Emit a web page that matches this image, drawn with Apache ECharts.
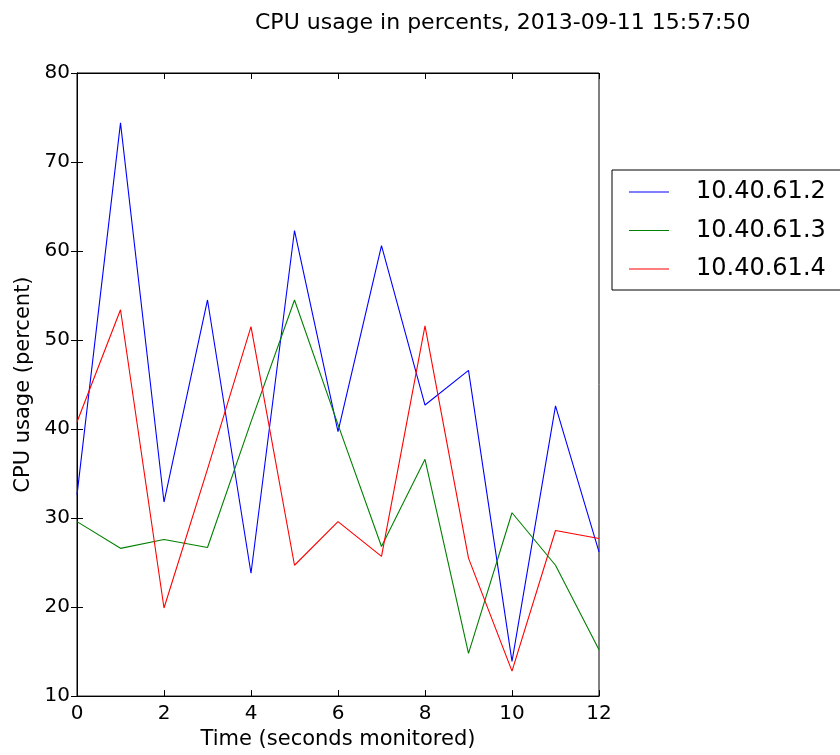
<!DOCTYPE html>
<html>
<head>
<meta charset="utf-8">
<script src="https://cdn.jsdelivr.net/npm/echarts@6/dist/echarts.min.js"></script>
<style>
  html, body { margin: 0; padding: 0; background: #fff; }
  #chart { width: 840px; height: 755px; }
</style>
</head>
<body>
<div id="chart"></div>
<script>
// seconds monitored
var seconds = [0, 1, 2, 3, 4, 5, 6, 7, 8, 9, 10, 11, 12];
var hosts = ['10.40.61.2', '10.40.61.3', '10.40.61.4'];
var cpu2 = [32.6, 74.4, 31.8, 54.5, 23.8, 62.3, 39.7, 60.6, 42.7, 46.6, 13.9, 42.6, 26.2];
var cpu3 = [29.6, 26.6, 27.6, 26.7, 40.8, 54.5, 40.5, 26.8, 36.6, 14.8, 30.6, 24.7, 15.2];
var cpu4 = [40.8, 53.4, 19.9, 35.5, 51.5, 24.7, 29.6, 25.7, 51.6, 25.5, 12.8, 28.6, 27.7];
var colors = ['#0000ff', '#008000', '#ff0000'];

function pairs(vals) {
    var out = [];
    for (var i = 0; i < seconds.length; i++) {
        out.push([seconds[i], vals[i]]);
    }
    return out;
}

window.addEventListener("load", initChart);

function initChart() {
    var chart = echarts.init(document.getElementById("chart"));
    var font = 'DejaVu Sans';
    var values = [cpu2, cpu3, cpu4];

    var series = [];
    for (var i = 0; i < hosts.length; i++) {
        series.push({
            name: hosts[i],
            type: 'line',
            showSymbol: false,
            symbol: 'none',
            lineStyle: { color: colors[i], width: 1.1 },
            itemStyle: { color: colors[i] },
            data: pairs(values[i])
        });
    }

    var lineIcon = 'path://M0,0 L40,0 L40,1.2 L0,1.2 Z';

    var option = {
        backgroundColor: '#fff',
        animation: false,
        textStyle: { fontFamily: font },
        title: {
            text: 'CPU usage in percents, 2013-09-11 15:57:50',
            left: 250,
            top: 7,
            textStyle: { fontFamily: font, fontSize: 22, fontWeight: 'normal', color: '#000' }
        },
        legend: {
            orient: 'vertical',
            left: 612,
            top: 170,
            padding: [10, 60, 9, 17],
            itemWidth: 40,
            itemHeight: 23,
            itemGap: 14.5,
            itemTextGap: 28,
            borderColor: '#000',
            borderWidth: 1,
            textStyle: { fontFamily: font, fontSize: 24, color: '#000', padding: [0, 0, 0, 22] },
            data: hosts.map(function (h) { return { name: h, icon: lineIcon }; })
        },
        grid: {
            left: 77,
            top: 73,
            right: 241,
            bottom: 57,
            show: true,
            borderColor: '#000',
            borderWidth: 1
        },
        xAxis: [{
            type: 'value',
            min: 0,
            max: 12,
            interval: 2,
            name: 'Time (seconds monitored)',
            nameLocation: 'middle',
            nameGap: 31,
            nameTextStyle: { fontFamily: font, fontSize: 21, color: '#000' },
            axisLine: { show: true, lineStyle: { color: '#000' } },
            axisTick: { show: true, inside: true, length: 6, lineStyle: { color: '#000' } },
            axisLabel: { fontFamily: font, fontSize: 20, color: '#000', margin: 8 },
            splitLine: { show: false }
        }, {
            type: 'value',
            position: 'top',
            min: 0,
            max: 12,
            interval: 2,
            axisLine: { show: true, lineStyle: { color: '#000' } },
            axisTick: { show: true, inside: true, length: 6, lineStyle: { color: '#000' } },
            axisLabel: { show: false },
            splitLine: { show: false }
        }],
        yAxis: [{
            type: 'value',
            min: 10,
            max: 80,
            interval: 10,
            name: 'CPU usage (percent)',
            nameLocation: 'middle',
            nameGap: 43,
            nameTextStyle: { fontFamily: font, fontSize: 21, color: '#000' },
            axisLine: { show: true, lineStyle: { color: '#000' } },
            axisTick: { show: true, inside: true, length: 6, lineStyle: { color: '#000' } },
            axisLabel: { fontFamily: font, fontSize: 20, color: '#000', margin: 7 },
            splitLine: { show: false }
        }, {
            type: 'value',
            position: 'right',
            min: 10,
            max: 80,
            interval: 10,
            axisLine: { show: true, lineStyle: { color: '#000' } },
            axisTick: { show: true, inside: true, length: 6, lineStyle: { color: '#000' } },
            axisLabel: { show: false },
            splitLine: { show: false }
        }],
        series: series
    };

    chart.setOption(option);
}
</script>
</body>
</html>
